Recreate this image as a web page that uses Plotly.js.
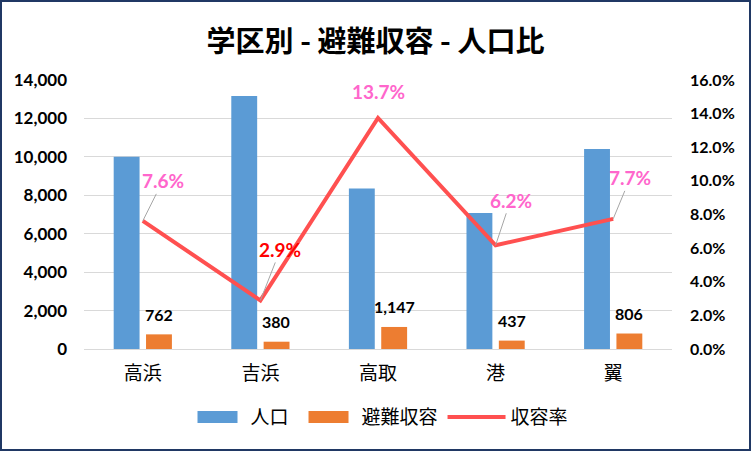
<!DOCTYPE html>
<html>
<head>
<meta charset="utf-8">
<script src="https://cdn.plot.ly/plotly-3.0.1.min.js"></script>
<style>
  body { margin: 0; background: #fff; }
  #frame { width: 747px; height: 447px; border: 2px solid #203864; }
</style>
</head>
<body>
<div id="frame"><div id="chart"></div></div>
<script>
// 学区
let districts = ["高浜", "吉浜", "高取", "港", "翼"];
// 人口
let population = [10000, 13170, 8350, 7080, 10410];
// 避難収容
let shelter = [762, 380, 1147, 437, 806];
// 収容率
let rate = [0.0762, 0.0289, 0.1374, 0.0617, 0.0774];

// label offsets for the 収容率 callouts (pixels, text centre relative to point)
let rateLabelOffset = [[20, -40], [20, -51], [0, -27], [15, -45], [17, -41]];
let rateLabelColor = ["#FF66CC", "#FF0000", "#FF66CC", "#FF66CC", "#FF66CC"];

let jp = "'Noto Sans CJK JP', sans-serif";
let num = "Lato, 'Noto Sans', sans-serif";

let data = [
    {
        x: districts, y: population, type: "bar", name: "人口",
        marker: { color: "#5B9BD5" }, hoverinfo: "skip"
    },
    {
        x: districts, y: shelter, type: "bar", name: "避難収容",
        marker: { color: "#ED7D31" }, hoverinfo: "skip"
    },
    {
        x: districts, y: rate, type: "scatter", mode: "lines", name: "収容率",
        yaxis: "y2", line: { color: "#FF5050", width: 4 }, hoverinfo: "skip"
    }
];

let annotations = [];
for (let i = 0; i < districts.length; i++) {
    // 避難収容 value above the orange bar
    annotations.push({
        x: districts[i], y: shelter[i], xref: "x", yref: "y",
        text: shelter[i].toLocaleString("en-US"),
        showarrow: false, xshift: 16, yshift: 20,
        font: { family: num, size: 16, color: "#000", weight: "bold" }
    });
    // 収容率 callout
    annotations.push({
        x: districts[i], y: rate[i], xref: "x", yref: "y2",
        text: (rate[i] * 100).toFixed(1) + "%",
        showarrow: true, arrowhead: 0, arrowwidth: 1,
        arrowcolor: i == 2 ? "rgba(0,0,0,0)" : "#A6A6A6",
        ax: rateLabelOffset[i][0], ay: rateLabelOffset[i][1],
        font: { family: num, size: 19, color: rateLabelColor[i], weight: "bold" }
    });
}

let layout = {
    width: 747,
    height: 447,
    margin: { l: 82, r: 77, t: 78, b: 100 },
    paper_bgcolor: "#fff",
    plot_bgcolor: "#fff",
    title: {
        text: "<b>学区別 - 避難収容 - 人口比</b>",
        font: { family: jp, size: 29, color: "#000" },
        x: 0.5, xanchor: "center",
        y: 1 - 40 / 447, yanchor: "middle", yref: "container"
    },
    barmode: "group",
    bargap: 0.45,
    bargroupgap: 0.2,
    xaxis: {
        showgrid: false, ticks: "", showline: true, linecolor: "#D9D9D9",
        tickfont: { family: jp, size: 19, color: "#000" },
        ticklabelstandoff: 7
    },
    yaxis: {
        range: [0, 14000], dtick: 2000, tickformat: ",d",
        showgrid: true, gridcolor: "#D9D9D9", zeroline: false, ticks: "",
        tickfont: { family: num, size: 17, color: "#000", weight: "bold" },
        ticklabelstandoff: 16
    },
    yaxis2: {
        overlaying: "y", side: "right",
        range: [0, 0.16], dtick: 0.02, tickformat: ".1%",
        showgrid: false, zeroline: false, ticks: "",
        tickfont: { family: num, size: 16, color: "#000", weight: "bold" },
        ticklabelstandoff: 17
    },
    showlegend: true,
    legend: {
        orientation: "h", x: 0.5, xanchor: "center",
        y: -0.253, yanchor: "middle",
        font: { family: jp, size: 19, color: "#000" },
        itemwidth: 58
    },
    annotations: annotations
};

Plotly.newPlot("chart", data, layout, { staticPlot: true }).then(function (gd) {
    // Excel-style wide legend swatches
    let traces = gd.querySelectorAll(".legend .traces");
    traces.forEach(function (t, i) {
        t.querySelectorAll(".legendpoints path").forEach(function (p) {
            if (i < 2) {
                p.setAttribute("d", "M15,6h40v-12h-40Z");
            } else {
                p.setAttribute("d", "M15,0h40");
            }
            p.setAttribute("transform", "translate(0,0)");
        });
    });
});
</script>
</body>
</html>
